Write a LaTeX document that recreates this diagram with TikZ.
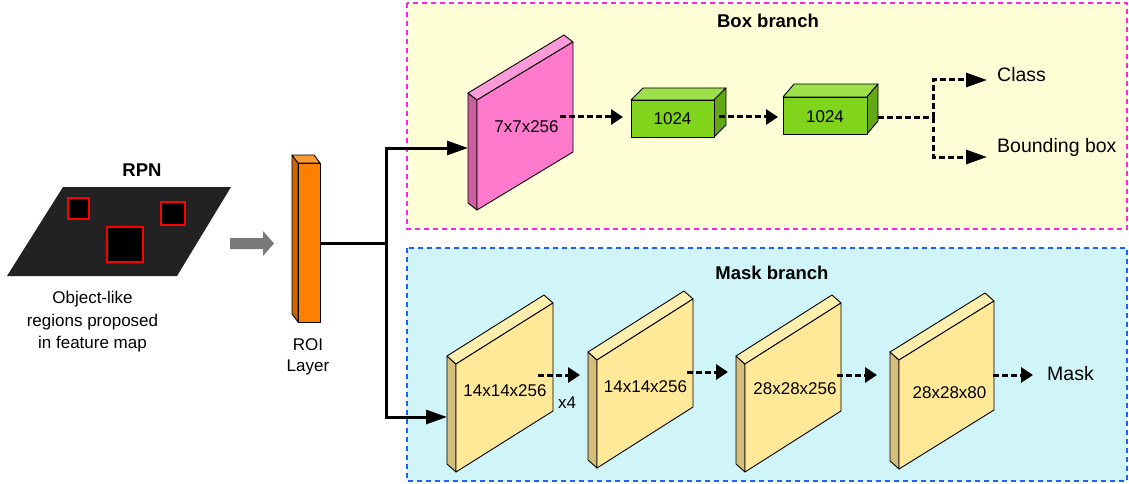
\documentclass[tikz,border=0pt]{standalone}
\usepackage{fontspec}
\setmainfont{Liberation Sans}
\usetikzlibrary{arrows.meta}

% face colours: F = front, S = side, T = top
\definecolor{pinkF}{HTML}{FF7ACC}
\definecolor{pinkS}{HTML}{CC5FA0}
\definecolor{pinkT}{HTML}{FF9ADA}
\definecolor{yelF}{HTML}{FFE999}
\definecolor{yelS}{HTML}{D4BE7A}
\definecolor{yelT}{HTML}{FFEFAE}
\definecolor{orF}{HTML}{FF8000}
\definecolor{orS}{HTML}{CC6600}
\definecolor{orT}{HTML}{FF9A33}
\definecolor{grF}{HTML}{80D41C}
\definecolor{grS}{HTML}{62A814}
\definecolor{grT}{HTML}{9CE04A}
\definecolor{boxbg}{HTML}{FFFFD7}
\definecolor{maskbg}{HTML}{CFF5F8}
\definecolor{boxline}{HTML}{FF22E0}
\definecolor{maskline}{HTML}{1F5FFF}
\definecolor{mapdark}{HTML}{222222}

% slanted feature slab: name, x, y (front top-left), width, rise, height, dx, dy, colour prefix
\newcommand\slabfig[9]{%
  \filldraw[face, fill=#9S] ({#2},{#3}) -- ({#2+#7},{#3+#8}) -- ({#2+#7},{#3+#8+#6}) -- ({#2},{#3+#6}) -- cycle;
  \filldraw[face, fill=#9T] ({#2},{#3}) -- ({#2+#7},{#3+#8}) -- ({#2+#4+#7},{#3-#5+#8}) -- ({#2+#4},{#3-#5}) -- cycle;
  \filldraw[face, fill=#9F] ({#2},{#3}) -- ({#2+#4},{#3-#5}) -- ({#2+#4},{#3-#5+#6}) -- ({#2},{#3+#6}) -- cycle;
  \coordinate (#1-c) at ({#2+#4/2},{#3-#5/2+#6/2});
}
% fully connected block: name, x1, y1, x2, y2, dx, dy
\newcommand\fcblock[7]{%
  \filldraw[face, fill=grT] ({#2},{#3}) -- ({#2+#6},{#3+#7}) -- ({#4+#6},{#3+#7}) -- ({#4},{#3}) -- cycle;
  \filldraw[face, fill=grS] ({#4},{#3}) -- ({#4+#6},{#3+#7}) -- ({#4+#6},{#5+#7}) -- ({#4},{#5}) -- cycle;
  \filldraw[face, fill=grF] ({#2},{#3}) rectangle ({#4},{#5});
  \coordinate (#1-c) at ({(#2+#4)/2},{(#3+#5)/2});
}

\tikzset{
  face/.style={draw=black, line width=0.9pt, line join=round},
  lbl/.style={inner sep=0pt, font=\fontsize{17}{20}\selectfont},
  outlbl/.style={inner sep=0pt, anchor=west, font=\fontsize{19.5}{22}\selectfont},
  title/.style={inner sep=0pt, font=\fontsize{18.5}{22}\bfseries\selectfont},
  feed/.style={line width=3pt, -{Triangle[length=21pt,width=14pt]}},
  flow/.style={line width=3pt, dash pattern=on 5.5pt off 3.5pt, -{Triangle[length=12pt,width=15pt]}},
  longtip/.style={-{Triangle[length=21pt,width=14pt]}},
  region/.style={line width=2.8pt, dash pattern=on 5pt off 4pt},
}

\begin{document}
\begin{tikzpicture}[x=1pt, y=-1pt]
\useasboundingbox (0,0) rectangle (1129,484);

% branch panels
\filldraw[region, draw=boxline, fill=boxbg] (407,3) rectangle (1127,229);
\filldraw[region, draw=maskline, fill=maskbg] (407,248) rectangle (1127,481);
\node[title] (boxtitle) at (768,21) {Box branch};
\node[title] (masktitle) at (772,273) {Mask branch};

% feature map with proposals
\node[title] (rpn) at (142,170) {RPN};
\fill[mapdark] (63,187) -- (231,187) -- (177,276) -- (7,276) -- cycle;
\filldraw[black, draw=red, line width=1.2pt] (68,198) rectangle (89,219);
\filldraw[black, draw=red, line width=1.2pt] (161,202) rectangle (185,225);
\filldraw[black, draw=red, line width=1.2pt] (107,227) rectangle (143,262);
\node[lbl, align=center, font=\fontsize{17}{22.5}\selectfont] (maptext) at (92.5,322)
  {Object-like\\regions proposed\\in feature map};

% block arrow towards the ROI layer
\fill[gray!95!black] (230,238) -- (263,238) -- (263,231) -- (274,243.5) -- (263,256) -- (263,249) -- (230,249) -- cycle;

% ROI layer
\slabfig{roi}{298}{163}{22}{0}{159}{-6}{-8}{or}
\node[lbl, align=center, font=\fontsize{17}{21}\selectfont] (roitext) at (308,357) {ROI\\Layer};

% box branch
\slabfig{pink}{477}{100}{96}{58}{110}{-9}{-7}{pink}
\node[lbl] (pinklbl) at (526.5,127) {7x7x256};
\fcblock{fcA}{631}{100}{714}{137}{12}{-12}
\node[lbl] (fcAlbl) at (672.5,119) {1024};
\fcblock{fcB}{783}{97}{867}{134}{11}{-13}
\node[lbl] (fcBlbl) at (825,117) {1024};
\node[outlbl] (cls) at (997,75) {Class};
\node[outlbl] (bbox) at (997,147) {Bounding box};

% mask branch
\slabfig{mA}{456}{364}{97}{61}{108}{-9}{-8}{yel}
\node[lbl] (mAlbl) at (505,391) {14x14x256};
\node[lbl] (times) at (567,403) {x4};
\slabfig{mB}{597}{360}{96}{61}{108}{-9}{-8}{yel}
\node[lbl] (mBlbl) at (645.5,387) {14x14x256};
\slabfig{mC}{745}{364}{96}{61}{108}{-9}{-8}{yel}
\node[lbl] (mClbl) at (795,389) {28x28x256};
\slabfig{mD}{899}{360}{95}{59}{109}{-9}{-8}{yel}
\node[lbl] (mDlbl) at (949.5,393) {28x28x80};
\node[outlbl] (mask) at (1047,374) {Mask};

% connector end points
\coordinate (roi-out) at (320,243);
\coordinate (split) at (386,243);
\coordinate (pink-in) at (468,148);
\coordinate (mA-in) at (447,417);
\coordinate (pink-out) at (560,117);
\coordinate (fcA-in) at (623,117);
\coordinate (fcA-out) at (719,117);
\coordinate (fcB-in) at (778,117);
\coordinate (fcB-out) at (878,118);
\coordinate (fork) at (933,118);
\coordinate (cls-in) at (987,80);
\coordinate (bbox-in) at (987,157);
\coordinate (mA-out) at (538,375);
\coordinate (mB-in) at (580,375);
\coordinate (mB-out) at (687,372);
\coordinate (mC-in) at (728,372);
\coordinate (mC-out) at (837,375);
\coordinate (mD-in) at (877,375);
\coordinate (mD-out) at (993,375);
\coordinate (mask-in) at (1033,375);

% connectors
\draw[line width=3pt] (roi-out) -- (split);
\draw[feed] (split) |- (pink-in);
\draw[feed] (split) |- (mA-in);
\draw[flow] (pink-out) -- (fcA-in);
\draw[flow] (fcA-out) -- (fcB-in);
\draw[flow, -] (fcB-out) -- (fork);
\draw[flow, longtip] (fork) |- (cls-in);
\draw[flow, longtip] (fork) |- (bbox-in);
\draw[flow] (mA-out) -- (mB-in);
\draw[flow] (mB-out) -- (mC-in);
\draw[flow] (mC-out) -- (mD-in);
\draw[flow] (mD-out) -- (mask-in);
\end{tikzpicture}
\end{document}
